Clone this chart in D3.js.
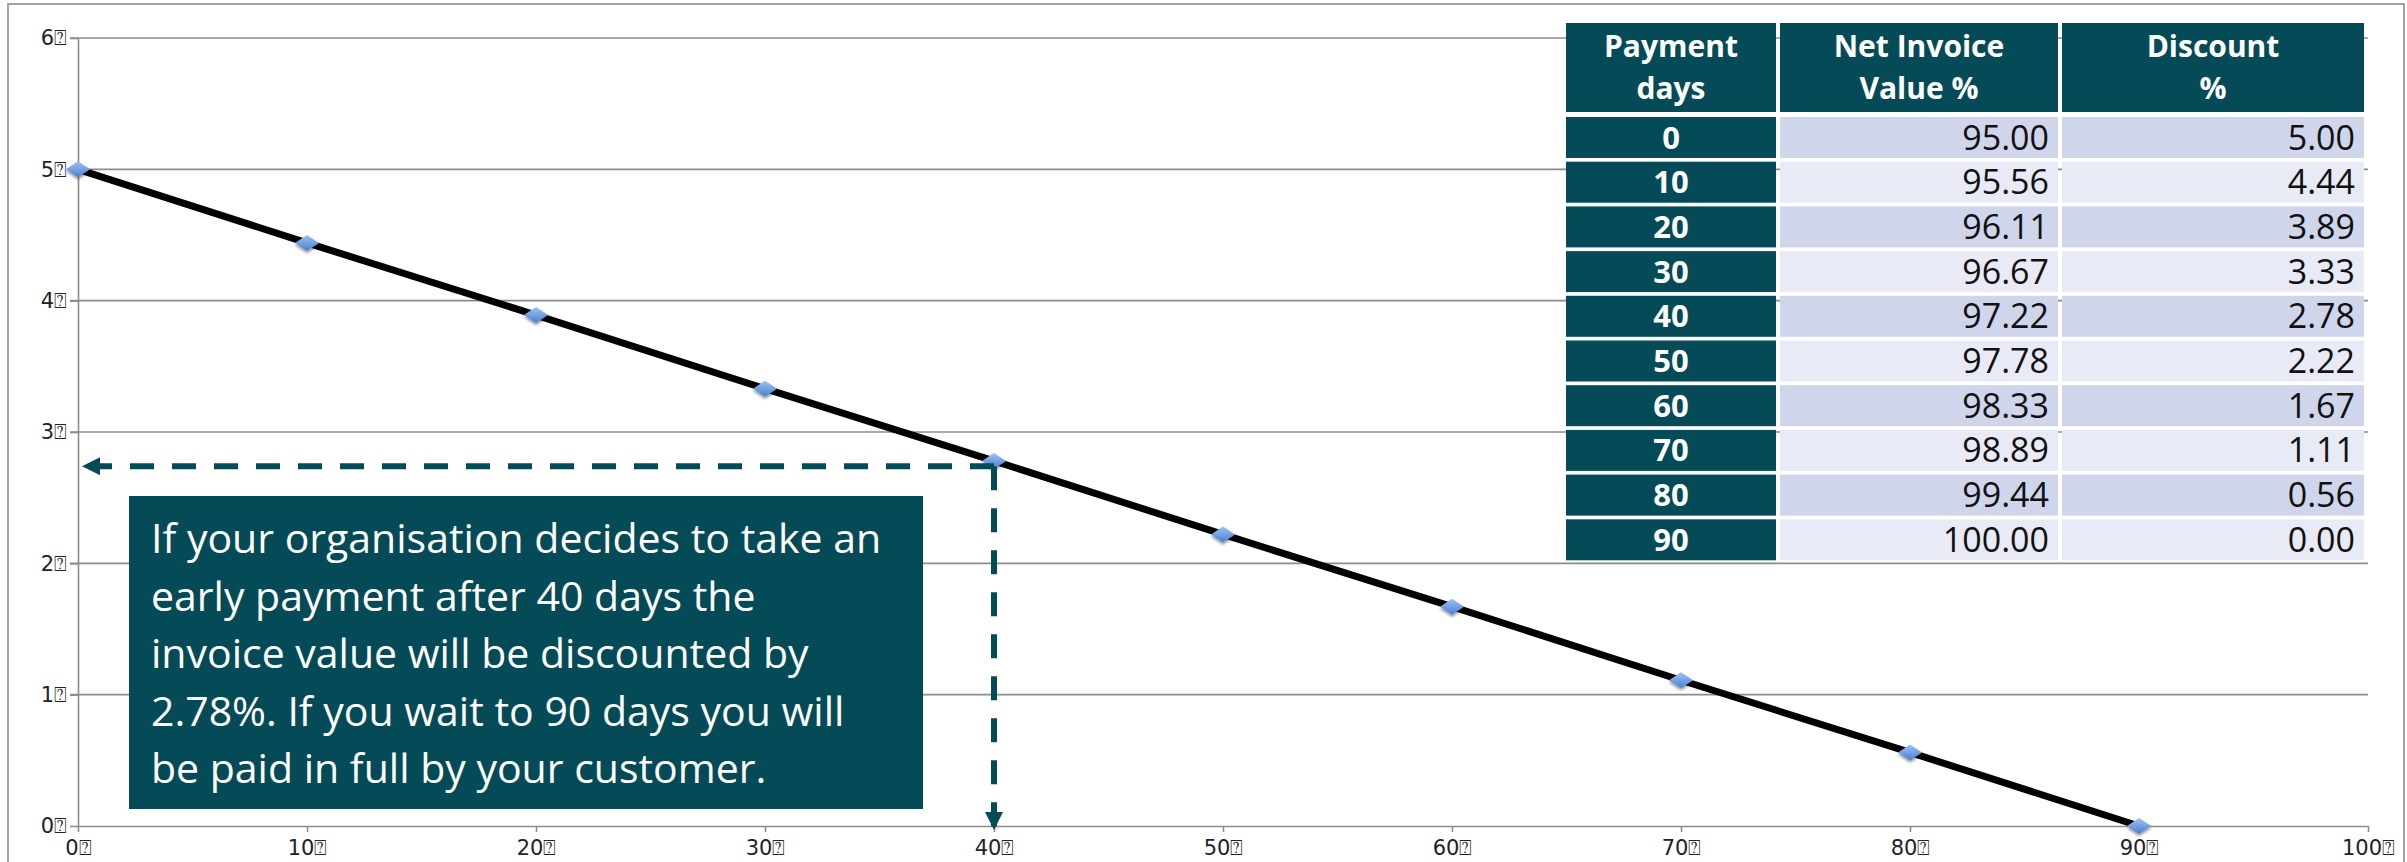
<!DOCTYPE html>
<html>
<head>
<meta charset="utf-8">
<script src="https://cdn.jsdelivr.net/npm/d3@7"></script>
<style>
  body { margin: 0; background: #fff; }
  .tick line, .domain { stroke: #8c8c8c; stroke-width: 1.6; }
</style>
</head>
<body>
<svg class="graph" width="2407" height="862"></svg>
<script>
// discount schedule
var days = [0, 10, 20, 30, 40, 50, 60, 70, 80, 90];
var netInvoice = [95.00, 95.56, 96.11, 96.67, 97.22, 97.78, 98.33, 98.89, 99.44, 100.00];
var discount = [5.00, 4.44, 3.89, 3.33, 2.78, 2.22, 1.67, 1.11, 0.56, 0.00];
var xTicks = [0, 10, 20, 30, 40, 50, 60, 70, 80, 90, 100];
var yTicks = [0, 1, 2, 3, 4, 5, 6];
var tableHeader = [["Payment", "days"], ["Net Invoice", "Value %"], ["Discount", "%"]];
var noteLines = [
  "If your organisation decides to take an",
  "early payment after 40 days the",
  "invoice value will be discounted by",
  "2.78%. If you wait to 90 days you will",
  "be paid in full by your customer."
];
var guideDay = 40, guideDiscount = 2.74;
var boxSign = "\u2370";

var teal = "#044a57";

var svgElem = d3.select("svg.graph"),
    width = +svgElem.attr("width"),
    height = +svgElem.attr("height");

var x = d3.scaleLinear().domain([0, 100]).range([78, 2368]);
var y = d3.scaleLinear().domain([0, 6]).range([826, 38]);

// outer frame
svgElem.append("rect")
    .attr("x", 8).attr("y", 4)
    .attr("width", 2396).attr("height", 880)
    .attr("fill", "none").attr("stroke", "#8c8c8c").attr("stroke-width", 1.6);

var defs = svgElem.append("defs");
var grad = defs.append("linearGradient").attr("id", "dia").attr("x1", 0).attr("y1", 0).attr("x2", 0).attr("y2", 1);
grad.append("stop").attr("offset", "0%").attr("stop-color", "#9cc2f5");
grad.append("stop").attr("offset", "100%").attr("stop-color", "#4a80d0");
defs.append("filter").attr("id", "shadow").attr("x", "-50%").attr("y", "-50%").attr("width", "200%").attr("height", "200%")
    .append("feDropShadow").attr("dx", 0).attr("dy", 2).attr("stdDeviation", 1.5).attr("flood-opacity", 0.45);
defs.append("marker").attr("id", "arrow")
    .attr("markerUnits", "userSpaceOnUse")
    .attr("viewBox", "0 0 10 10").attr("refX", 10).attr("refY", 5)
    .attr("markerWidth", 18).attr("markerHeight", 18)
    .attr("orient", "auto")
    .append("path").attr("d", "M0,0L10,5L0,10Z").attr("fill", teal);

// grid
svgElem.append("g").selectAll("line")
    .data(yTicks.slice(1))
    .enter().append("line")
    .attr("x1", x(0) - 8).attr("x2", x(100))
    .attr("y1", function (d) { return y(d); })
    .attr("y2", function (d) { return y(d); })
    .attr("stroke", "#8c8c8c").attr("stroke-width", 1.6);

var yAxis = svgElem.append("g")
    .attr("transform", "translate(" + x(0) + ",0)")
    .call(d3.axisLeft(y).tickValues(yTicks).tickSize(8).tickSizeOuter(0).tickPadding(3)
        .tickFormat(function (d) { return d + boxSign; }));

var xAxis = svgElem.append("g")
    .attr("transform", "translate(0," + y(0) + ")")
    .call(d3.axisBottom(x).tickValues(xTicks).tickSize(6).tickSizeOuter(0).tickPadding(8)
        .tickFormat(function (d) { return d + boxSign; }));

[yAxis, xAxis].forEach(function (a) {
    a.selectAll("text")
        .style("font-family", "'DejaVu Sans', sans-serif")
        .style("font-size", "21px")
        .attr("fill", "#222");
});

// series line
var pts = days.map(function (d, i) { return [d, discount[i]]; });
svgElem.append("path")
    .datum(pts)
    .attr("fill", "none").attr("stroke", "#000").attr("stroke-width", 7)
    .attr("d", d3.line().x(function (d) { return x(d[0]); }).y(function (d) { return y(d[1]); }));

svgElem.append("g").selectAll("path")
    .data(pts)
    .enter().append("path")
    .attr("transform", function (d) { return "translate(" + x(d[0]) + "," + y(d[1]) + ")"; })
    .attr("d", "M-12,0L0,-8L12,0L0,8Z")
    .attr("fill", "url(#dia)")
    .attr("filter", "url(#shadow)");

// guide lines
var gx = x(guideDay), gy = y(guideDiscount);
svgElem.append("line")
    .attr("x1", gx).attr("y1", gy).attr("x2", x(0) + 4).attr("y2", gy)
    .attr("stroke", teal).attr("stroke-width", 6).attr("stroke-dasharray", "24 18")
    .attr("marker-end", "url(#arrow)");
svgElem.append("line")
    .attr("x1", gx).attr("y1", gy).attr("x2", gx).attr("y2", y(0) + 4)
    .attr("stroke", teal).attr("stroke-width", 6).attr("stroke-dasharray", "24 18")
    .attr("marker-end", "url(#arrow)");

// note box
var note = svgElem.append("g");
note.append("rect")
    .attr("x", 129).attr("y", 496).attr("width", 794).attr("height", 313)
    .attr("fill", teal);
note.selectAll("text")
    .data(noteLines)
    .enter().append("text")
    .attr("x", 151)
    .attr("y", function (d, i) { return 553 + i * 57.5; })
    .attr("fill", "#fff")
    .style("font-family", "'Open Sans', sans-serif")
    .style("font-size", "41px")
    .text(function (d) { return d; });

// table
var colX = [1566, 1780, 2062], colW = [210, 278, 302];
var headTop = 23, headH = 89, rowTop = 117, rowPitch = 44.7, rowH = 41;
var table = svgElem.append("g").style("font-family", "'Open Sans', sans-serif");

tableHeader.forEach(function (lines, c) {
    table.append("rect").attr("x", colX[c]).attr("y", headTop).attr("width", colW[c]).attr("height", headH).attr("fill", teal);
    table.selectAll(null).data(lines).enter().append("text")
        .attr("x", colX[c] + colW[c] / 2)
        .attr("y", function (d, i) { return headTop + 34 + i * 42; })
        .attr("text-anchor", "middle").attr("fill", "#fff")
        .style("font-size", "30px").style("font-weight", "bold")
        .text(function (d) { return d; });
});

var rows = table.selectAll("g.row")
    .data(days)
    .enter().append("g")
    .attr("transform", function (d, i) { return "translate(0," + (rowTop + i * rowPitch) + ")"; });

rows.append("rect").attr("x", colX[0]).attr("width", colW[0]).attr("height", rowH).attr("fill", teal);
rows.append("text")
    .attr("x", colX[0] + colW[0] / 2).attr("y", rowH / 2 + 11)
    .attr("text-anchor", "middle").attr("fill", "#fff")
    .style("font-size", "31px").style("font-weight", "bold")
    .text(function (d) { return d; });

[netInvoice, discount].forEach(function (vals, k) {
    var c = k + 1;
    rows.append("rect").attr("x", colX[c]).attr("width", colW[c]).attr("height", rowH)
        .attr("fill", function (d, i) { return i % 2 ? "#e8ebf5" : "#cfd5ea"; });
    rows.append("text")
        .attr("x", colX[c] + colW[c] - 9).attr("y", rowH / 2 + 12)
        .attr("text-anchor", "end").attr("fill", "#111")
        .style("font-size", "34px")
        .text(function (d, i) { return vals[i].toFixed(2); });
});
</script>
</body>
</html>
